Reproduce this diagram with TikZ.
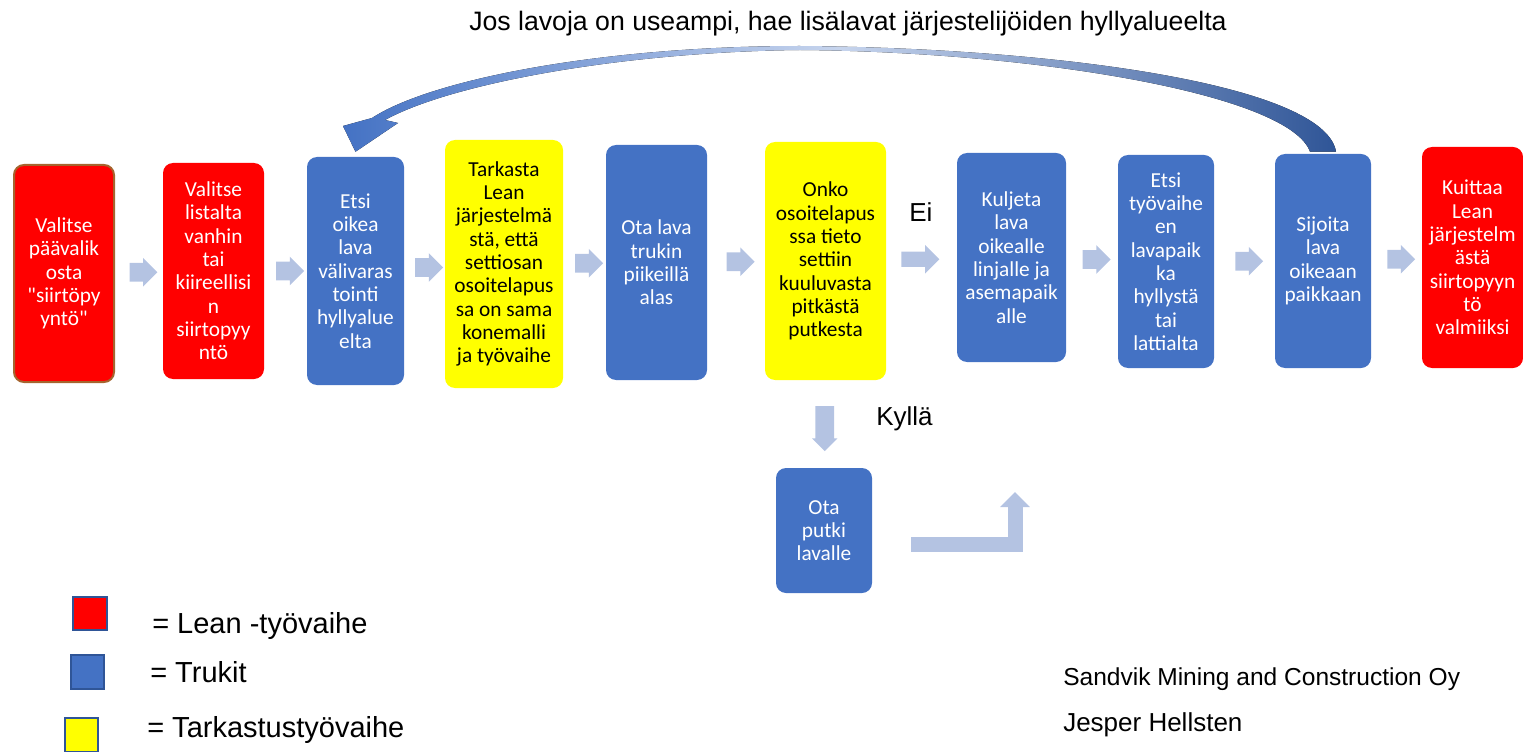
\documentclass[tikz,border=0pt]{standalone}
\usepackage{fontspec}
\setmainfont{Liberation Sans}
\newfontfamily\boxfont{Carlito}
\usepackage{xcolor}
\usetikzlibrary{shapes.arrows,arrows.meta,calc}
\definecolor{leanred}{HTML}{FF0000}
\definecolor{trukblue}{HTML}{4472C4}
\definecolor{checkyellow}{HTML}{FFFF00}
\definecolor{flowgray}{HTML}{B4C3E2}
\definecolor{redborder}{HTML}{A5642E}
\definecolor{loopdark}{HTML}{2F5597}

\begin{document}
\begin{tikzpicture}[x=0.75pt, y=-0.75pt,
        stepbox/.style={rounded corners=7.5pt, inner sep=0pt, align=center, text=white, font=\boxfont\fontsize{16}{17.5}\selectfont},
        leanbox/.style={stepbox, fill=leanred}, trukbox/.style={stepbox, fill=trukblue}, checkbox/.style={stepbox, fill=checkyellow, text=black},
        boxsize/.style 2 args={minimum width=#1*0.75pt, minimum height=#2*0.75pt},
        flowarrow/.style={single arrow, fill=flowgray, inner sep=6.75pt, minimum height=18.75pt, single arrow head extend=3.75pt},
        answertext/.style={inner sep=0pt, anchor=base west, font=\fontsize{19.5}{22}\selectfont},
        legendsq/.style={draw=loopdark, line width=1.5pt, inner sep=0pt, minimum width=25pt, minimum height=25pt},
        legendtext/.style={inner sep=0pt, anchor=base west, font=\fontsize{21.75}{24}\selectfont},
        footertext/.style={inner sep=0pt, anchor=base west, font=\fontsize{18.4}{22}\selectfont}]
    \useasboundingbox (0,0) rectangle (1523,752);

    \node[leanbox, draw=redborder, line width=1.5pt, boxsize={100}{217}] (paavalikko) at (64,273.5) {Valitse\\päävalik\\osta\\"siirtöpy\\yntö"};
    \node[leanbox, boxsize={101}{216}] (listalta) at (213.5,271) {Valitse\\listalta\\vanhin\\tai\\kiireellisi\\n\\siirtopyy\\ntö};
    \node[trukbox, boxsize={97}{228}] (valivarasto) at (355.5,271) {Etsi\\oikea\\lava\\välivaras\\tointi\\hyllyalue\\elta};
    \node[checkbox, boxsize={118}{248}] (tarkasta) at (504,264) {Tarkasta\\Lean\\järjestelmä\\stä, että\\settiosan\\osoitelapus\\sa on sama\\konemalli\\ja työvaihe};
    \node[trukbox, boxsize={101}{235}] (piikit) at (656.5,262.5) {Ota lava\\trukin\\piikeillä\\alas};
    \node[checkbox, boxsize={121}{238}] (osoitelappu) at (825.5,261) {Onko\\osoitelapus\\ssa tieto\\settiin\\kuuluvasta\\pitkästä\\putkesta};
    \node[trukbox, boxsize={109}{209}] (kuljeta) at (1011.5,257.5) {Kuljeta\\lava\\oikealle\\linjalle ja\\asemapaik\\alle};
    \node[trukbox, boxsize={96}{213}] (lavapaikka) at (1166,261.5) {Etsi\\työvaihe\\en\\lavapaik\\ka\\hyllystä\\tai\\lattialta};
    \node[trukbox, boxsize={96}{214}] (sijoita) at (1323,261) {Sijoita\\lava\\oikeaan\\paikkaan};
    \node[leanbox, boxsize={101}{221}] (kuittaa) at (1472.5,257.5) {Kuittaa\\Lean\\järjestelm\\ästä\\siirtopyyn\\tö\\valmiiksi};
    \node[trukbox, boxsize={96}{125}] (putki) at (824,530.5) {Ota\\putki\\lavalle};

    \node[flowarrow] (nuoli1) at ($(paavalikko.east)!.5!(listalta.west)$) {};
    \node[flowarrow] (nuoli2) at ($(listalta.east)!.5!(valivarasto.west)$) {};
    \node[flowarrow] (nuoli3) at ($(valivarasto.east)!.5!(tarkasta.west)$) {};
    \node[flowarrow] (nuoli4) at ($(tarkasta.east)!.5!(piikit.west)$) {};
    \node[flowarrow] (nuoli5) at ($(piikit.east)!.5!(osoitelappu.west)$) {};
    \node[flowarrow, inner sep=5.6pt, minimum height=28.5pt, single arrow head extend=4.9pt] (nuoliei) at ($(osoitelappu.east)!.5!(kuljeta.west)+(-5,0)$) {};
    \node[flowarrow] (nuoli7) at ($(kuljeta.east)!.5!(lavapaikka.west)$) {};
    \node[flowarrow] (nuoli8) at ($(lavapaikka.east)!.5!(sijoita.west)$) {};
    \node[flowarrow] (nuoli9) at ($(sijoita.east)!.5!(kuittaa.west)$) {};
    \node[flowarrow, shape border rotate=270, minimum height=33.75pt, single arrow head extend=2.6pt] (nuolikylla) at ($(osoitelappu.south)!.5!(putki.north)$) {};

    \node[answertext] (ei) at (909,222) {Ei};
    \node[answertext] (kylla) at (876,425) {Kyllä};

    % paluunuoli
    \coordinate (paluu) at (911,544.5);
    \coordinate (paluuyla) at (1015,492);
    \draw[flowgray, line width=11.25pt, -{Triangle[width=21.75pt,length=11.25pt]}] (paluu) -| (paluuyla);

    \fill[left color=trukblue, right color=loopdark, middle color=trukblue!30!white]
        ($(sijoita.north)+(13,-2)$) .. controls (1325,85) and (1060,48) .. (800,46)
        .. controls (600,46) and (430,80) .. (372,118) -- (343,126) -- ($(valivarasto.north)+(0,-5)$)
        -- (398,123) -- (385,120) .. controls (450,84) and (620,52) .. (800,50)
        .. controls (1040,52) and (1290,95) .. ($(sijoita.north)+(-13,-2)$) -- cycle;
    \node[inner sep=0pt, anchor=base, font=\fontsize{20}{22}\selectfont] (otsikko) at (848,31) {Jos lavoja on useampi, hae lisälavat järjestelijöiden hyllyalueelta};

    \node[legendsq, fill=leanred] (selitelean) at (90,613.5) {};
    \node[legendsq, fill=trukblue] (selitetrukki) at (87.5,672) {};
    \node[legendsq, fill=checkyellow] (selitetarkastus) at (81.5,735) {};
    \node[legendtext] (leanteksti) at (152,633) {= Lean -työvaihe};
    \node[legendtext] (trukkiteksti) at (150,682) {= Trukit};
    \node[legendtext] (tarkastusteksti) at (147,737) {= Tarkastustyövaihe};

    \node[footertext] (yritys) at (1063,685) {Sandvik Mining and Construction Oy};
    \node[footertext, font=\fontsize{19.5}{22}\selectfont] (tekija) at (1063,731) {Jesper Hellsten};
\end{tikzpicture}
\end{document}
